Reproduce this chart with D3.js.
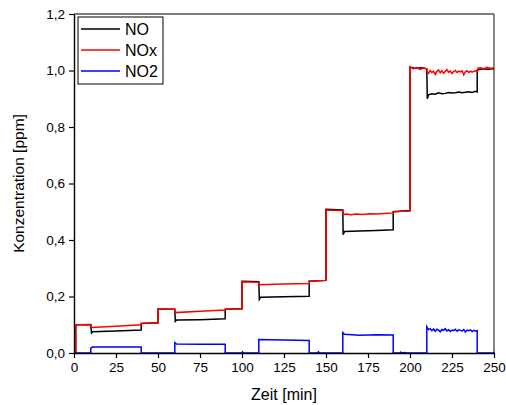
<!DOCTYPE html>
<html><head><meta charset="utf-8">
<script src="https://cdn.jsdelivr.net/npm/d3@7"></script>
<style>body{margin:0;background:#fff}svg{display:block}text{font-family:"Liberation Sans",Arial,sans-serif}</style>
</head><body>
<svg id="c" width="506" height="405"></svg>
<script>
const xTicks = [0,25,50,75,100,125,150,175,200,225,250];
const yTicks = [0,0.2,0.4,0.6,0.8,1.0,1.2];
const yTickLabels = ["0,0","0,2","0,4","0,6","0,8","1,0","1,2"];
const seriesNames = ["NO","NOx","NO2"];
const seriesColors = ["#000000","#ff0000","#0000ff"];

// [time (min), concentration (ppm)]
const noData = [[0,0],[1,0],[1,0.1],[10,0.1],[10.4,0.071],[11,0.075],[25,0.078],[40,0.081],[40,0.104],[50,0.107],[50,0.156],[60,0.155],[60.3,0.112],[61,0.117],[75,0.118],[90,0.121],[90,0.155],[100,0.157],[100,0.254],[110,0.252],[110.3,0.19],[111,0.197],[125,0.199],[140,0.201],[140,0.254],[150,0.257],[150,0.509],[160,0.506],[160.2,0.419],[161,0.43],[170,0.432],[180,0.434],[190,0.436],[190,0.5],[200,0.504],[200,1.012],[203,1.008],[207,1.01],[210,1.006],[210.3,0.9],[211,0.914],[213,0.918],[215,0.916],[217,0.921],[219,0.918],[221,0.919],[223,0.922],[225,0.92],[227,0.921],[229,0.924],[231,0.921],[233,0.923],[235,0.925],[237,0.922],[239,0.926],[240,0.924],[240,1.002],[243,1.006],[246,1.004],[250,1.006]];
const noxData = [[0,0],[1,0],[1,0.1],[10,0.101],[10.4,0.09],[25,0.095],[40,0.1],[40,0.105],[50,0.107],[50,0.155],[60,0.155],[60.3,0.143],[75,0.148],[90,0.152],[90,0.155],[100,0.156],[100,0.252],[110,0.25],[110.3,0.242],[125,0.244],[140,0.246],[140,0.254],[150,0.257],[150,0.506],[160,0.504],[160.3,0.49],[162,0.492],[165,0.489],[168,0.492],[172,0.49],[176,0.493],[180,0.492],[185,0.494],[190,0.496],[190,0.5],[200,0.503],[200,1.013],[202,1.006],[204,1.01],[206,1.004],[208,1.009],[210,1.006],[210.3,0.996],[211,0.99],[212,1.0],[213,0.993],[214,0.998],[215,0.986],[216,0.997],[217,1.002],[218,0.992],[219,0.999],[220,0.99],[221,0.997],[222,1.003],[223,0.994],[224,0.998],[225,0.989],[226,0.996],[227,1.0],[228,0.993],[229,0.998],[230,0.995],[231,0.999],[232,0.985],[233,0.996],[234,0.999],[235,0.993],[236,0.998],[237,0.994],[238,0.997],[239,0.999],[240,0.998],[240.5,1.008],[242,1.01],[244,1.006],[246,1.011],[248,1.007],[250,1.01]];
const no2Data = [[0,0],[10,0],[10,0.017],[11,0.021],[25,0.021],[40,0.021],[40,0],[60,0],[60,0.037],[61,0.032],[75,0.031],[90,0.031],[90,0],[100,0],[100.3,0.004],[101,0],[110,0],[110,0.048],[125,0.046],[140,0.044],[140,0],[145,0],[145.5,0.004],[146,0],[160,0],[160,0.072],[161,0.066],[170,0.063],[180,0.065],[190,0.064],[190,0],[194,0],[194.5,0.003],[195,0],[197,0.002],[198,0],[210,0],[210,0.093],[211,0.083],[212,0.086],[213,0.079],[214,0.085],[215,0.077],[216,0.084],[217,0.081],[218,0.075],[219,0.083],[220,0.08],[221,0.086],[222,0.078],[223,0.082],[224,0.076],[225,0.081],[226,0.079],[227,0.084],[228,0.077],[229,0.082],[230,0.08],[231,0.078],[232,0.083],[233,0.074],[234,0.081],[235,0.079],[236,0.082],[237,0.076],[238,0.08],[239,0.078],[240,0.079],[240,0],[250,0],[250,0.004]];

const svg = d3.select("#c");
const mL = 74, mR = 494, mT = 14, mB = 353;
const x = d3.scaleLinear().domain([0,250]).range([mL,mR]);
const y = d3.scaleLinear().domain([0,1.2]).range([mB,mT]);

// frame top & right
svg.append("line").attr("x1",mL).attr("x2",mR).attr("y1",mT).attr("y2",mT).attr("stroke","#555").attr("stroke-width",1.4);
svg.append("line").attr("x1",mR).attr("x2",mR).attr("y1",mT).attr("y2",mB).attr("stroke","#555").attr("stroke-width",1.4);

const line = d3.line().x(d=>x(d[0])).y(d=>y(d[1]));
const g = svg.append("g");
[noData, noxData, no2Data].forEach((d,i)=>{
  g.append("path").datum(d).attr("d",line).attr("fill","none").attr("stroke",seriesColors[i]).attr("stroke-width",1.5).attr("stroke-linejoin","miter");
});

const xAxis = svg.append("g").attr("transform",`translate(0,${mB})`)
  .call(d3.axisBottom(x).tickValues(xTicks).tickSize(5).tickSizeOuter(0).tickPadding(4).tickFormat(d3.format("d")));
const yAxis = svg.append("g").attr("transform",`translate(${mL},0)`)
  .call(d3.axisLeft(y).tickValues(yTicks).tickSize(5).tickSizeOuter(0).tickPadding(4).tickFormat((d,i)=>yTickLabels[i]));
[xAxis,yAxis].forEach(a=>{
  a.select(".domain").attr("stroke","#000").attr("stroke-width",1.4);
  a.selectAll(".tick line").attr("stroke","#000").attr("stroke-width",1.2);
  a.selectAll(".tick text").attr("font-size",13.5).attr("fill","#000").style("font-family","Liberation Sans, Arial, sans-serif");
});

svg.append("text").attr("x",284).attr("y",400).attr("text-anchor","middle").attr("font-size",16).text("Zeit [min]");
svg.append("text").attr("transform",`translate(24,${(mT+mB)/2}) rotate(-90)`).attr("text-anchor","middle").attr("font-size",15.5).text("Konzentration [ppm]");

// legend
const lg = svg.append("g");
lg.append("rect").attr("x",78).attr("y",17).attr("width",85).attr("height",67).attr("fill","#fff").attr("stroke","#000").attr("stroke-width",1);
seriesNames.forEach((n,i)=>{
  const yy = 29 + i*21;
  lg.append("line").attr("x1",81).attr("x2",120).attr("y1",yy).attr("y2",yy).attr("stroke",seriesColors[i]).attr("stroke-width",1.3);
  lg.append("text").attr("x",125).attr("y",yy+6).attr("font-size",16).text(n);
});
</script>
</body></html>
